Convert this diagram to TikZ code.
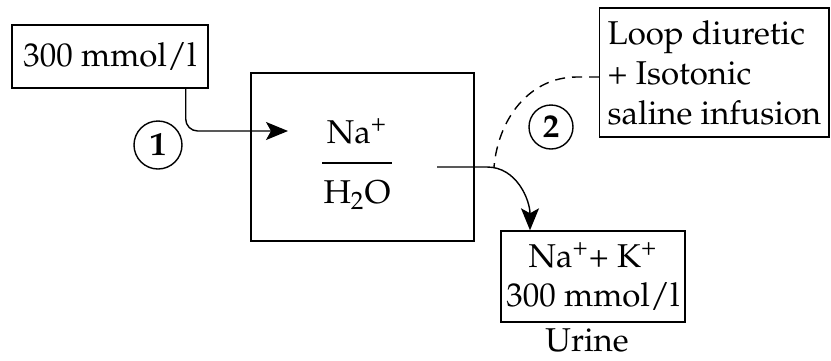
\documentclass[tikz,border=0pt]{standalone}
\usepackage[T1]{fontenc}
\usepackage{mathpazo}
\usetikzlibrary{arrows.meta,calc}

\begin{document}
\begin{tikzpicture}[
  x=0.5pt,y=-0.5pt,
  font=\fontsize{16.5}{19.5}\selectfont,
  box/.style={draw,line width=.7pt},
  num/.style={draw,circle,line width=.7pt,inner sep=0pt,font=\fontsize{16.5}{18}\selectfont\bfseries},
  arr/.style={-{Stealth[length=11pt,width=9pt,inset=2.5pt]},line width=.7pt}
]
\useasboundingbox (0,0) rectangle (831,360);
% boxes
\node[box,minimum width=98pt,minimum height=31.5pt] (plasma) at (110,56.5) {300 mmol/l};
\node[box,minimum width=111.5pt,minimum height=84pt] (tubule) at (362.5,157) {};
\node (na) at (357,131) {Na\textsuperscript{+}};
\node (water) at (357,195) {H$_2$O};
\draw[line width=.7pt] ($(na)!.5!(water)$) +(-35,0) -- +(35,0);
\node[box,minimum width=92pt,minimum height=45.5pt,inner sep=2pt,align=center] (urine) at (593,276.5) {Na\textsuperscript{+}+ K\textsuperscript{+}\\300 mmol/l};
\node[inner sep=0pt] (urinelbl) at (587,340) {Urine};
\node[box,anchor=west,minimum height=64.5pt,inner xsep=4pt,align=left,font=\fontsize{16.5}{20}\selectfont] (drug) at (599,72.5) {Loop diuretic\\+ Isotonic\\saline infusion};
% steps
\node[num,minimum size=24pt] (one) at (158,145) {1};
\node[num,minimum size=22pt] (two) at (551,127) {2};
% connectors
\coordinate (in) at (288,131);
\coordinate (out) at (437,167);
\coordinate (join) at (494,167);
\draw[arr,rounded corners=6pt] ([xshift=-11.5pt]plasma.south east) |- (in);
\draw[arr] (out) -- ++(50,0) to[out=0,in=90] ([xshift=-31.5pt]urine.north);
\draw[line width=.7pt,dash pattern=on 5pt off 3.5pt] ([yshift=-2.25pt]drug.west) -- ++(-22,0) to[out=180,in=85] (join);
\end{tikzpicture}
\end{document}
